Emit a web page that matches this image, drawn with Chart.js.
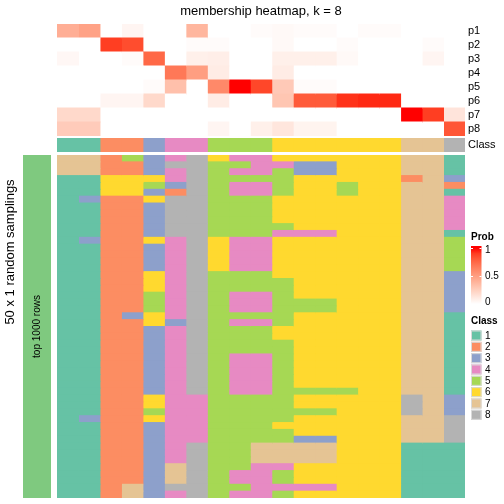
<!DOCTYPE html>
<html>
<head>
    <meta charset="UTF-8">
    <title>membership heatmap, k = 8</title>
    <script src="https://cdn.jsdelivr.net/npm/chart.js@4.4.1/dist/chart.umd.min.js"></script>
    <style type="text/css">
        body { margin: 0; background: #fff; }
        #wrap { position: relative; width: 504px; height: 504px; }
        #wrap canvas { position: absolute; left: 0; top: 0; }
    </style>
</head>
<body>
<div id="wrap">
    <canvas id="probChart" width="504" height="504"></canvas>
    <canvas id="classChart" width="504" height="504"></canvas>
    <canvas id="samplingChart" width="504" height="504"></canvas>
    <canvas id="annoChart" width="504" height="504"></canvas>
</div>

<script>
    // class of each of the 19 columns
    const sampleClass = [1, 1, 2, 2, 3, 4, 4, 5, 5, 5, 6, 6, 6, 6, 6, 6, 7, 7, 8];

    // membership probabilities, one array per row
    const probRows = ['p1', 'p2', 'p3', 'p4', 'p5', 'p6', 'p7', 'p8'];
    const p1 = [0.42, 0.48, 0, 0.05, 0, 0, 0.38, 0, 0, 0.02, 0.03, 0.02, 0.02, 0, 0.02, 0.02, 0, 0, 0];
    const p2 = [0, 0, 0.9, 0.85, 0, 0, 0.02, 0.02, 0, 0, 0.03, 0, 0, 0.02, 0, 0, 0, 0.02, 0];
    const p3 = [0.04, 0, 0, 0.02, 0.75, 0, 0.08, 0.09, 0, 0, 0.08, 0.08, 0.08, 0.03, 0, 0, 0, 0.05, 0];
    const p4 = [0, 0, 0, 0, 0, 0.68, 0.5, 0.1, 0, 0, 0.1, 0, 0, 0, 0, 0, 0, 0, 0];
    const p5 = [0, 0, 0, 0, 0.02, 0.33, 0, 0.6, 1, 0.87, 0.28, 0.02, 0.02, 0, 0, 0, 0, 0, 0];
    const p6 = [0, 0, 0.05, 0.05, 0.2, 0, 0, 0.1, 0, 0, 0.3, 0.8, 0.8, 0.93, 0.95, 0.95, 0, 0, 0];
    const p7 = [0.2, 0.2, 0, 0, 0, 0, 0, 0, 0, 0, 0, 0, 0, 0, 0, 0, 1, 0.9, 0.14];
    const p8 = [0.27, 0.27, 0, 0, 0, 0, 0, 0.05, 0, 0.08, 0.13, 0.06, 0.06, 0, 0, 0, 0, 0, 0.82];
    const probValues = [p1, p2, p3, p4, p5, p6, p7, p8];

    // class found in each of the 50 random samplings (rows) for each column
    const samplingRows = [
        [7, 7, 2, 5, 3, 4, 8, 6, 4, 4, 6, 6, 6, 6, 6, 6, 7, 7, 1],
        [7, 7, 2, 2, 3, 8, 8, 5, 5, 4, 4, 3, 3, 6, 6, 6, 7, 7, 1],
        [7, 7, 2, 2, 3, 4, 8, 5, 4, 4, 5, 3, 3, 6, 6, 6, 7, 7, 1],
        [1, 1, 6, 6, 6, 4, 8, 5, 5, 5, 5, 6, 6, 6, 6, 6, 2, 7, 3],
        [1, 1, 6, 6, 5, 3, 8, 5, 4, 4, 5, 6, 6, 5, 6, 6, 7, 7, 2],
        [1, 1, 6, 6, 3, 2, 8, 5, 4, 4, 5, 6, 6, 5, 6, 6, 7, 7, 1],
        [1, 3, 2, 2, 6, 8, 8, 5, 5, 5, 6, 6, 6, 6, 6, 6, 7, 7, 4],
        [1, 1, 2, 2, 3, 8, 8, 5, 5, 5, 6, 6, 6, 6, 6, 6, 7, 7, 4],
        [1, 1, 2, 2, 3, 8, 8, 5, 5, 5, 6, 6, 6, 6, 6, 6, 7, 7, 4],
        [1, 1, 2, 2, 3, 8, 8, 5, 5, 5, 6, 6, 6, 6, 6, 6, 7, 7, 4],
        [1, 1, 2, 2, 3, 8, 8, 5, 5, 5, 5, 6, 6, 6, 6, 6, 7, 7, 4],
        [1, 1, 2, 2, 3, 8, 8, 5, 5, 5, 4, 4, 4, 6, 6, 6, 7, 7, 1],
        [1, 3, 2, 2, 6, 4, 8, 6, 4, 4, 6, 6, 6, 6, 6, 6, 7, 7, 5],
        [1, 1, 2, 2, 3, 4, 8, 6, 4, 4, 6, 6, 6, 6, 6, 6, 7, 7, 5],
        [1, 1, 2, 2, 3, 4, 8, 6, 4, 4, 6, 6, 6, 6, 6, 6, 7, 7, 5],
        [1, 1, 2, 2, 3, 4, 8, 6, 4, 4, 6, 6, 6, 6, 6, 6, 7, 7, 5],
        [1, 1, 2, 2, 3, 4, 8, 6, 4, 4, 6, 6, 6, 6, 6, 6, 7, 7, 5],
        [1, 1, 2, 2, 6, 4, 8, 5, 5, 5, 6, 6, 6, 6, 6, 6, 7, 7, 3],
        [1, 1, 2, 2, 6, 4, 8, 5, 5, 5, 5, 6, 6, 6, 6, 6, 7, 7, 3],
        [1, 1, 2, 2, 6, 4, 8, 5, 5, 5, 5, 6, 6, 6, 6, 6, 7, 7, 3],
        [1, 1, 2, 2, 5, 4, 8, 5, 4, 4, 5, 6, 6, 6, 6, 6, 7, 7, 3],
        [1, 1, 2, 2, 5, 4, 8, 5, 4, 4, 5, 5, 5, 6, 6, 6, 7, 7, 3],
        [1, 1, 2, 2, 5, 4, 8, 5, 4, 4, 5, 5, 5, 6, 6, 6, 7, 7, 3],
        [1, 1, 2, 3, 6, 4, 8, 5, 5, 5, 5, 6, 6, 6, 6, 6, 7, 7, 1],
        [1, 1, 2, 2, 6, 3, 8, 5, 4, 4, 5, 6, 6, 6, 6, 6, 7, 7, 1],
        [1, 1, 2, 2, 3, 4, 8, 5, 5, 5, 6, 6, 6, 6, 6, 6, 7, 7, 1],
        [1, 1, 2, 2, 3, 4, 8, 5, 5, 5, 6, 6, 6, 6, 6, 6, 7, 7, 1],
        [1, 1, 2, 2, 3, 4, 8, 5, 5, 5, 5, 6, 6, 6, 6, 6, 7, 7, 1],
        [1, 1, 2, 2, 3, 4, 8, 5, 5, 5, 5, 6, 6, 6, 6, 6, 7, 7, 1],
        [1, 1, 2, 2, 3, 4, 8, 5, 4, 4, 5, 6, 6, 6, 6, 6, 7, 7, 1],
        [1, 1, 2, 2, 3, 4, 8, 5, 4, 4, 5, 6, 6, 6, 6, 6, 7, 7, 1],
        [1, 1, 2, 2, 3, 4, 8, 5, 4, 4, 5, 6, 6, 6, 6, 6, 7, 7, 1],
        [1, 1, 2, 2, 3, 4, 8, 5, 4, 4, 5, 6, 6, 6, 6, 6, 7, 7, 1],
        [1, 1, 2, 2, 3, 4, 8, 5, 4, 4, 5, 6, 6, 6, 6, 6, 7, 7, 1],
        [1, 1, 2, 2, 3, 4, 8, 5, 4, 4, 5, 5, 5, 5, 6, 6, 7, 7, 1],
        [1, 1, 2, 2, 6, 4, 4, 5, 5, 5, 5, 6, 6, 6, 6, 6, 8, 7, 3],
        [1, 1, 2, 2, 6, 4, 4, 5, 5, 5, 5, 6, 6, 6, 6, 6, 8, 7, 3],
        [1, 1, 2, 2, 5, 4, 4, 5, 5, 5, 5, 5, 5, 6, 6, 6, 8, 7, 3],
        [1, 3, 2, 2, 6, 4, 4, 5, 5, 5, 5, 6, 6, 6, 6, 6, 7, 7, 8],
        [1, 1, 2, 2, 3, 4, 4, 5, 5, 5, 6, 6, 6, 6, 6, 6, 7, 7, 8],
        [1, 1, 2, 2, 3, 4, 4, 5, 5, 5, 5, 6, 6, 6, 6, 6, 7, 7, 8],
        [1, 1, 2, 2, 3, 4, 4, 5, 5, 5, 5, 3, 3, 6, 6, 6, 7, 7, 8],
        [1, 1, 2, 2, 3, 4, 8, 5, 5, 7, 7, 7, 7, 6, 6, 6, 1, 1, 1],
        [1, 1, 2, 2, 3, 4, 8, 5, 5, 7, 7, 7, 7, 6, 6, 6, 1, 1, 1],
        [1, 1, 2, 2, 3, 4, 8, 5, 5, 7, 7, 7, 7, 6, 6, 6, 1, 1, 1],
        [1, 1, 2, 2, 3, 7, 8, 5, 5, 4, 4, 6, 6, 6, 6, 6, 1, 1, 1],
        [1, 1, 2, 2, 3, 7, 8, 5, 4, 4, 5, 6, 6, 6, 6, 6, 1, 1, 1],
        [1, 1, 2, 2, 3, 7, 8, 5, 4, 4, 5, 6, 6, 6, 6, 6, 1, 1, 1],
        [1, 1, 2, 7, 3, 8, 8, 5, 5, 4, 4, 4, 4, 6, 6, 6, 1, 1, 1],
        [1, 1, 2, 7, 3, 4, 8, 5, 4, 4, 5, 6, 6, 6, 6, 6, 1, 1, 1]
    ];

    const classLabels = ['1', '2', '3', '4', '5', '6', '7', '8'];
    const probTicks = [0, 0.5, 1];

    const classColors = ['#66C2A5', '#FC8D62', '#8DA0CB', '#E78AC3', '#A6D854', '#FFD92F', '#E5C494', '#B3B3B3'];
    const FONT = "'Liberation Sans', Arial, sans-serif";

    // white -> red, interpolated in LAB space like colorRamp2
    function toLab(r, g, b) {
        const lin = c => { c /= 255; return c <= 0.04045 ? c / 12.92 : Math.pow((c + 0.055) / 1.055, 2.4); };
        const R = lin(r), G = lin(g), B = lin(b);
        const X = (0.4124 * R + 0.3576 * G + 0.1805 * B) / 0.95047;
        const Y = 0.2126 * R + 0.7152 * G + 0.0722 * B;
        const Z = (0.0193 * R + 0.1192 * G + 0.9505 * B) / 1.08883;
        const f = t => t > 0.008856 ? Math.cbrt(t) : 7.787 * t + 16 / 116;
        return [116 * f(Y) - 16, 500 * (f(X) - f(Y)), 200 * (f(Y) - f(Z))];
    }
    function fromLab(L, a, b) {
        const fy = (L + 16) / 116, fx = fy + a / 500, fz = fy - b / 200;
        const finv = t => t * t * t > 0.008856 ? t * t * t : (t - 16 / 116) / 7.787;
        const X = 0.95047 * finv(fx), Y = finv(fy), Z = 1.08883 * finv(fz);
        const R = 3.2406 * X - 1.5372 * Y - 0.4986 * Z;
        const G = -0.9689 * X + 1.8758 * Y + 0.0415 * Z;
        const B = 0.0557 * X - 0.2040 * Y + 1.0570 * Z;
        const gam = c => {
            c = c <= 0.0031308 ? 12.92 * c : 1.055 * Math.pow(c, 1 / 2.4) - 0.055;
            return Math.round(Math.max(0, Math.min(1, c)) * 255);
        };
        return 'rgb(' + gam(R) + ',' + gam(G) + ',' + gam(B) + ')';
    }
    const labLow = toLab(255, 255, 255);
    const labHigh = toLab(255, 0, 0);
    function probColor(v) {
        return fromLab(
            labLow[0] + (labHigh[0] - labLow[0]) * v,
            labLow[1] + (labHigh[1] - labLow[1]) * v,
            labLow[2] + (labHigh[2] - labLow[2]) * v
        );
    }

    // shared options for the stacked "heatmap" bar charts
    function heatOptions(padding, showRowNames) {
        return {
            indexAxis: 'y',
            responsive: false,
            animation: false,
            devicePixelRatio: 1,
            layout: { padding: padding },
            plugins: { legend: { display: false }, tooltip: { enabled: false } },
            scales: {
                x: { display: false, stacked: true, min: 0, max: sampleClass.length },
                y: {
                    display: showRowNames,
                    stacked: true,
                    position: 'right',
                    grid: { display: false, drawTicks: false },
                    border: { display: false },
                    ticks: { color: '#000', font: { family: FONT, size: 11 }, padding: 3, autoSkip: false },
                    afterFit: function (scale) { scale.width = showRowNames ? 39 : 0; }
                }
            }
        };
    }

    function columnDatasets(rowCount, colorFor) {
        return sampleClass.map((cls, col) => ({
            data: Array.from({ length: rowCount }, () => 1),
            backgroundColor: Array.from({ length: rowCount }, (_, row) => colorFor(row, col)),
            borderWidth: 0,
            inflateAmount: 0.5,
            barPercentage: 1,
            categoryPercentage: 1
        }));
    }

    // membership probabilities
    new Chart(document.getElementById('probChart'), {
        type: 'bar',
        data: {
            labels: probRows,
            datasets: columnDatasets(probRows.length, (row, col) => probColor(probValues[row][col]))
        },
        options: heatOptions({ left: 57, right: 0, top: 24, bottom: 368 }, true)
    });

    // class annotation row
    new Chart(document.getElementById('classChart'), {
        type: 'bar',
        data: {
            labels: ['Class'],
            datasets: columnDatasets(1, (row, col) => classColors[sampleClass[col] - 1])
        },
        options: heatOptions({ left: 57, right: 0, top: 138, bottom: 352 }, true)
    });

    // 50 random samplings
    new Chart(document.getElementById('samplingChart'), {
        type: 'bar',
        data: {
            labels: samplingRows.map((_, i) => 'sampling ' + (i + 1)),
            datasets: columnDatasets(samplingRows.length, (row, col) => classColors[samplingRows[row][col] - 1])
        },
        options: heatOptions({ left: 57, right: 39, top: 155, bottom: 6 }, false)
    });

    // text and legends drawn on the top canvas
    const decorations = {
        id: 'decorations',
        afterDraw(chart) {
            const ctx = chart.ctx;
            ctx.save();
            ctx.fillStyle = '#000';
            ctx.textBaseline = 'middle';

            // title
            ctx.font = '13px ' + FONT;
            ctx.textAlign = 'center';
            ctx.fillText('membership heatmap, k = 8', 261, 11);

            // left titles
            ctx.save();
            ctx.translate(10, 252);
            ctx.rotate(-Math.PI / 2);
            ctx.fillText('50 x 1 random samplings', 0, 0);
            ctx.restore();

            const bar = chart.getDatasetMeta(0).data[0];
            ctx.save();
            ctx.translate((chart.chartArea.left + chart.chartArea.right) / 2, bar.y);
            ctx.rotate(-Math.PI / 2);
            ctx.font = '10px ' + FONT;
            ctx.fillText('top 1000 rows', 0, 0);
            ctx.restore();

            // Prob legend
            const lx = 471, gTop = 246, gBottom = 304, v1 = 248;
            const yOf = v => gBottom - (gBottom - v1) * v;
            ctx.textAlign = 'left';
            ctx.font = 'bold 10px ' + FONT;
            ctx.fillText('Prob', lx, 237);
            const grad = ctx.createLinearGradient(0, gBottom, 0, v1);
            for (let i = 0; i <= 10; i++) grad.addColorStop(i / 10, probColor(i / 10));
            ctx.fillStyle = grad;
            ctx.fillRect(lx, v1, 10.5, gBottom - v1);
            ctx.fillStyle = probColor(1);
            ctx.fillRect(lx, gTop, 10.5, v1 - gTop);
            ctx.strokeStyle = '#fff';
            ctx.lineWidth = 1;
            probTicks.forEach(t => {
                const y = Math.round(yOf(t)) + 0.5;
                ctx.beginPath();
                ctx.moveTo(lx, y); ctx.lineTo(lx + 2, y);
                ctx.moveTo(lx + 8.5, y); ctx.lineTo(lx + 10.5, y);
                ctx.stroke();
            });
            ctx.fillStyle = '#000';
            ctx.font = '10px ' + FONT;
            probTicks.forEach(t => {
                const y = Math.min(Math.max(yOf(t), 250), 302);
                ctx.fillText(String(t), lx + 14, y);
            });

            // Class legend
            ctx.font = 'bold 10px ' + FONT;
            ctx.fillText('Class', lx, 321);
            ctx.font = '10px ' + FONT;
            classLabels.forEach((lab, i) => {
                const y = 330.5 + i * 11.33;
                ctx.fillStyle = classColors[i];
                ctx.fillRect(lx, y, 10.5, 10);
                ctx.strokeStyle = '#d9d9d9';
                ctx.strokeRect(lx + 0.5, y + 0.5, 9.5, 9);
                ctx.fillStyle = '#000';
                ctx.fillText(lab, lx + 14, y + 5.5);
            });
            ctx.restore();
        }
    };

    // row annotation bar on the left
    new Chart(document.getElementById('annoChart'), {
        type: 'bar',
        data: {
            labels: ['top 1000 rows'],
            datasets: [{
                data: [1],
                backgroundColor: '#7FC97F',
                borderWidth: 0,
                barPercentage: 1,
                categoryPercentage: 1
            }]
        },
        options: {
            indexAxis: 'y',
            responsive: false,
            animation: false,
            devicePixelRatio: 1,
            layout: { padding: { left: 23, right: 453, top: 155, bottom: 6 } },
            plugins: { legend: { display: false }, tooltip: { enabled: false } },
            scales: {
                x: { display: false, min: 0, max: 1 },
                y: { display: false }
            }
        },
        plugins: [decorations]
    });
</script>
</body>
</html>
